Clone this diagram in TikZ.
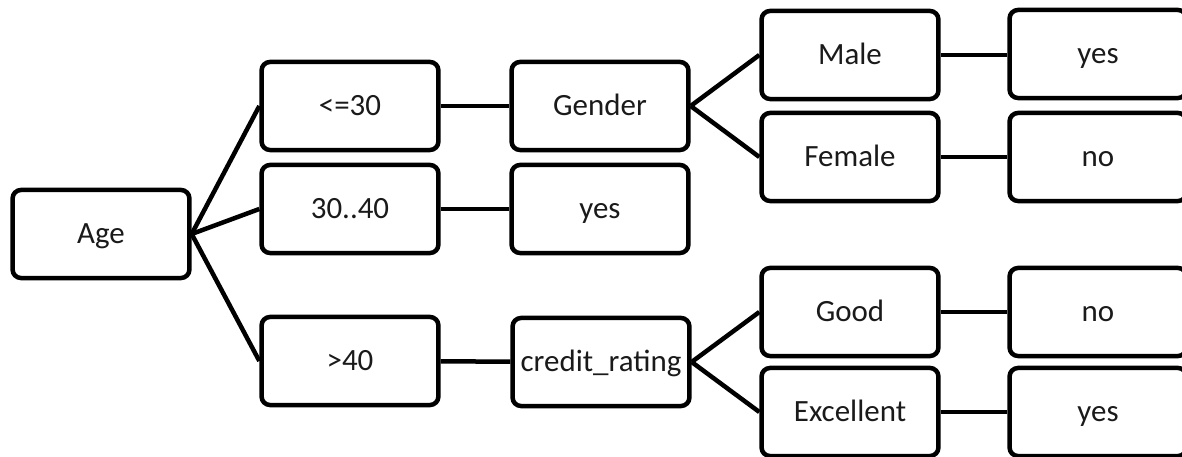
\documentclass[tikz,border=0pt]{standalone}
\usepackage{fontspec}
\setmainfont{Carlito}
\definecolor{TreeLine}{HTML}{000000}
\definecolor{TreeText}{HTML}{1A1A1A}

\begin{document}
\begin{tikzpicture}[x=0.025cm, y=-0.025cm,
    box/.style={draw=TreeLine, line width=3.2pt, rounded corners=6pt, fill=white,
      minimum width=4.42cm, minimum height=2.2cm, inner sep=2pt,
      text height=17pt, text depth=3pt,
      text=TreeText, font=\fontsize{22}{26}\selectfont},
    branch/.style={draw=TreeLine, line width=3.2pt}]
                \useasboundingbox (0,0) rectangle (1182,457);

                \node[box] (age) at (101, 234) {Age};

                \node[box] (le30) at (350, 106) {<=30};
                \node[box] (mid) at (350, 209) {30..40};
                \node[box] (gt40) at (350, 361) {>40};

                \node[box] (gender) at (600, 106) {Gender};
                \node[box] (yesmid) at (600, 209) {yes};
                \node[box] (credit) at (601, 362) {credit\_rating};

                \node[box] (male) at (850, 55) {Male};
                \node[box] (female) at (850, 157) {Female};
                \node[box] (good) at (850, 312) {Good};
                \node[box] (excellent) at (850, 412) {Excellent};

                \node[box] (yesmale) at (1098, 54) {yes};
                \node[box] (nofemale) at (1098, 157) {no};
                \node[box] (nogood) at (1098, 312) {no};
                \node[box] (yesexc) at (1098, 412) {yes};

                \draw[branch] (age.east) -- (le30.west);
                \draw[branch] (age.east) -- (mid.west);
                \draw[branch] (age.east) -- (gt40.west);
                \draw[branch] (le30) -- (gender);
                \draw[branch] (mid) -- (yesmid);
                \draw[branch] (gt40) -- (credit);
                \draw[branch] (gender.east) -- (male.west);
                \draw[branch] (gender.east) -- (female.west);
                \draw[branch] (credit.east) -- (good.west);
                \draw[branch] (credit.east) -- (excellent.west);
                \draw[branch] (male.east) -- (male.east -| yesmale.west);
                \draw[branch] (female.east) -- (female.east -| nofemale.west);
                \draw[branch] (good.east) -- (good.east -| nogood.west);
                \draw[branch] (excellent.east) -- (excellent.east -| yesexc.west);
            \end{tikzpicture}
\end{document}
